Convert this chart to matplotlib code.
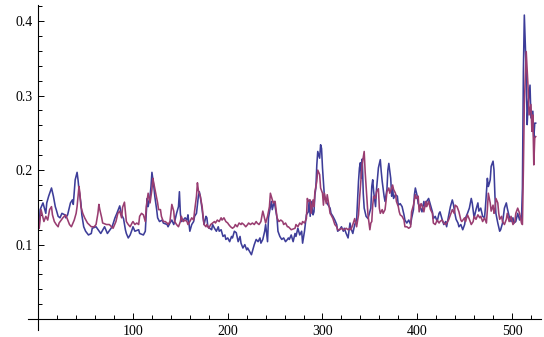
import matplotlib
matplotlib.use("Agg")
import matplotlib.pyplot as plt
from matplotlib.ticker import FixedLocator

# ---- data (index, value) ----
blue_x = [1, 2, 5, 8, 9, 11, 14, 16, 18, 19, 21, 23, 25, 28, 29, 31, 34, 36, 37, 38, 39, 41, 42, 43, 45, 46, 48, 50, 53, 56, 57, 61, 66, 70, 73, 78, 81, 83, 86, 88, 90, 92, 93, 95, 97, 99, 100, 102, 106, 107, 111, 113, 114, 115, 116, 118, 119, 120, 122, 123, 125, 126, 128, 131, 132, 136, 137, 139, 141, 143, 144, 146, 148, 149, 150, 151, 153, 155, 157, 158, 160, 162, 164, 165, 167, 169, 170, 171, 173, 174,
          175, 177, 178, 179, 181, 183, 184, 186, 188, 190, 191, 193, 195, 197, 198, 200, 202, 204, 205, 207, 209, 211, 213, 214, 216, 218, 220, 221, 223, 225, 227, 228, 230, 232, 234, 235, 237, 239, 240, 242, 243, 245, 246, 247, 249, 250, 252, 253, 255, 257, 259, 261, 263, 264, 265, 267, 269, 271, 272, 274, 276, 278, 279, 281, 283, 285, 286, 287, 288, 290, 291, 292, 293, 294, 295, 297, 298, 299, 300, 301, 302, 304, 306, 308, 309, 311, 313, 315, 316, 318, 320, 322, 323, 325, 327, 329, 330, 332, 334, 336, 337, 338, 339, 340, 341, 342, 343, 344, 346, 348, 350, 351,
          352, 353, 354, 356, 357, 358, 359, 361, 362, 363, 365, 366, 368, 369, 370, 372, 373, 374, 375, 377, 379, 380, 382, 384, 386, 387, 389, 391, 393, 394, 396, 397, 398, 400, 401, 403, 405, 407, 408, 410, 412, 414, 416, 417, 419, 421, 423, 424, 426, 428, 430, 431, 433, 435, 437, 438, 440,
          441, 443, 444, 446, 448, 450, 451, 453, 455, 457, 458, 460, 462, 464, 465, 467, 469, 471, 472, 473, 474, 475, 476, 477, 478, 480, 481, 482, 483, 485, 487, 488, 490, 492, 494, 495, 497, 499, 501, 502, 504, 506, 508, 509, 510, 511, 512, 513, 515, 516, 517, 519, 520, 522, 523, 524, 525]
blue_y = [0.125, 0.147, 0.156, 0.142, 0.156, 0.165, 0.176, 0.165, 0.151, 0.147, 0.138, 0.136, 0.142, 0.140, 0.136, 0.140, 0.156, 0.160, 0.154, 0.171, 0.187, 0.197, 0.187, 0.174, 0.156, 0.140, 0.124, 0.118, 0.113, 0.115, 0.122, 0.124, 0.115, 0.124, 0.115, 0.124, 0.136, 0.142, 0.152, 0.140, 0.135, 0.120, 0.115, 0.109, 0.113, 0.120, 0.124, 0.118, 0.120, 0.115, 0.113, 0.118, 0.142, 0.162, 0.151, 0.165, 0.178, 0.197, 0.178, 0.165, 0.147, 0.136, 0.131, 0.133, 0.129, 0.127, 0.124, 0.129, 0.133, 0.127, 0.131, 0.142, 0.151, 0.171, 0.142, 0.131, 0.133, 0.136, 0.133, 0.140, 0.118, 0.127, 0.131, 0.138, 0.142, 0.165, 0.171, 0.165, 0.147, 0.136,
          0.127, 0.138, 0.136, 0.124, 0.122, 0.120, 0.127, 0.122, 0.118, 0.124, 0.118, 0.120, 0.111, 0.113, 0.107, 0.109, 0.104, 0.111, 0.109, 0.118, 0.116, 0.104, 0.111, 0.102, 0.0955, 0.100, 0.093, 0.0955, 0.091, 0.0865, 0.0955, 0.100, 0.107, 0.104, 0.109, 0.102, 0.107, 0.118, 0.127, 0.104, 0.136, 0.151, 0.158, 0.147, 0.158, 0.151, 0.136, 0.118, 0.111, 0.107, 0.109, 0.104, 0.107, 0.109, 0.107, 0.113, 0.104, 0.115, 0.111, 0.122, 0.113, 0.118, 0.102, 0.118, 0.140, 0.144, 0.160, 0.138, 0.158, 0.140, 0.144, 0.167, 0.176, 0.207, 0.225, 0.216, 0.234, 0.229, 0.203, 0.185, 0.165, 0.158, 0.153, 0.149, 0.142, 0.138, 0.133, 0.127, 0.118, 0.120, 0.124, 0.118, 0.122, 0.115, 0.109, 0.129, 0.122, 0.115, 0.127, 0.133, 0.158, 0.185, 0.203, 0.210, 0.189, 0.215, 0.169, 0.149, 0.138, 0.135, 0.144, 0.149,
          0.178, 0.187, 0.171, 0.151, 0.174, 0.189, 0.203, 0.214, 0.198, 0.185, 0.165, 0.158, 0.174, 0.200, 0.209, 0.189, 0.165, 0.176, 0.162, 0.167, 0.165, 0.153, 0.155, 0.151, 0.140, 0.133, 0.129, 0.133, 0.127, 0.135, 0.147, 0.167, 0.176, 0.165, 0.155, 0.151, 0.144, 0.158, 0.151, 0.158, 0.162, 0.153, 0.144, 0.135, 0.138, 0.131, 0.142, 0.144, 0.135, 0.127, 0.131, 0.124, 0.138, 0.151, 0.160, 0.155, 0.140,
          0.134, 0.129, 0.124, 0.127, 0.120, 0.127, 0.136, 0.142, 0.149, 0.162, 0.156, 0.136, 0.147, 0.156, 0.145, 0.149, 0.138, 0.136, 0.151, 0.171, 0.189, 0.178, 0.182, 0.187, 0.205, 0.212, 0.200, 0.165, 0.142, 0.129, 0.118, 0.120, 0.129, 0.149, 0.156, 0.149, 0.138, 0.131, 0.136, 0.129, 0.131, 0.142, 0.133, 0.138, 0.134, 0.176, 0.332, 0.408, 0.332, 0.261, 0.288, 0.314, 0.270, 0.279, 0.243, 0.263, 0.263]

red_x = [1, 3, 5, 6, 8, 10, 12, 14, 15, 17, 19, 21, 22, 26, 29, 33, 35, 38, 40, 41, 43, 44, 45, 47, 49, 52, 56, 59, 61, 63, 64, 65, 67, 68, 72, 75, 79, 82, 84, 86, 88, 89, 91, 93, 95, 97, 99, 100, 102, 104, 106, 107, 109, 111, 113, 114, 116, 118, 120, 121, 122, 124, 126, 127, 129, 130, 132, 134, 136, 137, 139, 141, 143, 144, 146, 148, 150, 151, 153, 155, 157, 158, 160, 162, 164, 165, 167, 168, 169, 171, 173, 174,
         175, 177, 178, 180, 182, 184, 186, 187, 189, 191, 193, 194, 196, 198, 200, 201, 203, 205, 207, 208, 210, 212, 214, 215, 217, 219, 221, 222, 224, 226, 228, 230, 231, 233, 235, 237, 238, 240, 242, 244, 245, 247, 248, 250, 251, 252, 254, 256, 258, 259, 261, 263,
         264, 267, 271, 272, 274, 276, 278, 279, 281, 283, 284, 285, 287, 288, 290, 291, 292, 294, 295, 297, 298, 300, 301, 302, 304, 305, 307, 308, 309, 311, 313, 315, 316, 318, 320, 322, 323, 325, 327, 329, 330, 332, 334, 336, 338, 339, 341, 342, 344, 345, 347, 348, 350, 351,
         352, 353, 354, 356, 357, 359, 360, 361, 363, 364, 366, 367, 368, 370, 371, 373, 374, 375, 377, 378, 380, 381, 382, 384, 386, 387, 389, 391, 393, 394, 396, 398, 399, 401, 402, 404, 405, 407, 409, 410, 412, 414, 416, 417, 419, 421, 423, 424, 426, 428, 430, 431, 433, 435, 437, 439, 440, 442, 444, 446, 447,
         450, 451, 453, 455, 457, 459, 460, 462, 464, 466, 467, 469, 471, 473, 474, 475, 477, 478, 480, 481, 482, 483, 485, 486, 487, 489, 490, 492, 494, 495, 497, 499, 501, 503, 504, 506, 508, 510, 511, 512, 513, 514, 515, 517, 518, 520, 521, 522, 523, 524, 525]
red_y = [0.122, 0.147, 0.136, 0.131, 0.138, 0.133, 0.147, 0.151, 0.140, 0.131, 0.127, 0.124, 0.129, 0.136, 0.140, 0.127, 0.124, 0.133, 0.142, 0.151, 0.178, 0.169, 0.151, 0.142, 0.136, 0.129, 0.124, 0.124, 0.127, 0.142, 0.154, 0.147, 0.136, 0.129, 0.127, 0.127, 0.122, 0.131, 0.142, 0.145, 0.136, 0.150, 0.157, 0.131, 0.127, 0.124, 0.129, 0.131, 0.127, 0.129, 0.127, 0.138, 0.142, 0.140, 0.131, 0.151, 0.169, 0.156, 0.174, 0.189, 0.182, 0.169, 0.156, 0.147, 0.147, 0.138, 0.131, 0.131, 0.129, 0.127, 0.131, 0.154, 0.145, 0.131, 0.127, 0.124, 0.131, 0.138, 0.131, 0.133, 0.131, 0.127, 0.131, 0.136, 0.133, 0.145, 0.165, 0.183, 0.173, 0.165, 0.151, 0.138,
         0.127, 0.124, 0.127, 0.122, 0.127, 0.129, 0.131, 0.129, 0.133, 0.131, 0.136, 0.133, 0.136, 0.131, 0.129, 0.127, 0.124, 0.122, 0.124, 0.127, 0.124, 0.129, 0.127, 0.129, 0.127, 0.124, 0.127, 0.129, 0.127, 0.129, 0.127, 0.131, 0.129, 0.127, 0.131, 0.145, 0.140, 0.129, 0.138, 0.151, 0.169, 0.160, 0.156, 0.158, 0.147, 0.136, 0.131, 0.133, 0.131, 0.127, 0.129, 0.124,
         0.124, 0.120, 0.122, 0.127, 0.124, 0.129, 0.127, 0.131, 0.129, 0.135, 0.162, 0.158, 0.160, 0.142, 0.160, 0.151, 0.171, 0.185, 0.200, 0.194, 0.176, 0.169, 0.153, 0.169, 0.155, 0.167, 0.151, 0.142, 0.140, 0.135, 0.127, 0.124, 0.120, 0.120, 0.122, 0.120, 0.120, 0.122, 0.120, 0.122, 0.120, 0.127, 0.135, 0.124, 0.140, 0.160, 0.194, 0.209, 0.225, 0.198, 0.158, 0.140, 0.120, 0.129,
         0.131, 0.153, 0.165, 0.162, 0.171, 0.175, 0.149, 0.142, 0.147, 0.142, 0.147, 0.158, 0.171, 0.176, 0.169, 0.176, 0.180, 0.174, 0.169, 0.158, 0.151, 0.144, 0.140, 0.138, 0.133, 0.124, 0.124, 0.122, 0.124, 0.144, 0.153, 0.167, 0.162, 0.165, 0.144, 0.155, 0.153, 0.144, 0.158, 0.151, 0.158, 0.147, 0.142, 0.129, 0.127, 0.133, 0.129, 0.131, 0.133, 0.129, 0.127, 0.129, 0.133, 0.140, 0.147, 0.142, 0.153, 0.151, 0.144, 0.133, 0.131,
         0.136, 0.131, 0.140, 0.134, 0.127, 0.131, 0.138, 0.134, 0.140, 0.136, 0.138, 0.131, 0.136, 0.129, 0.147, 0.169, 0.156, 0.145, 0.153, 0.142, 0.147, 0.162, 0.156, 0.142, 0.134, 0.138, 0.131, 0.127, 0.134, 0.142, 0.131, 0.138, 0.127, 0.131, 0.142, 0.149, 0.142, 0.129, 0.127, 0.200, 0.288, 0.323, 0.359, 0.310, 0.274, 0.288, 0.252, 0.274, 0.207, 0.243, 0.245]

x_major = [100, 200, 300, 400, 500]
x_labels = ["100", "200", "300", "400", "500"]
y_major = [0.1, 0.2, 0.3, 0.4]
y_labels = ["0.1", "0.2", "0.3", "0.4"]

BLUE = (0.24, 0.24, 0.6)
RED = (0.6, 0.24, 0.442)

W, H = 544, 337
fig = plt.figure(figsize=(W / 100, H / 100), dpi=100)
left_px, right_px, top_px, bot_px = 28, 541, 5, 330
ax = fig.add_axes([left_px / W, 1 - bot_px / H, (right_px - left_px) / W, (bot_px - top_px) / H])

ax.plot(blue_x, blue_y, color=BLUE, lw=1.15, solid_joinstyle="round")
ax.plot(red_x, red_y, color=RED, lw=1.15, solid_joinstyle="round")

ax.set_xlim(-10.8, 530.6)
ax.set_ylim(-0.0145, 0.4215)

for s in ("top", "right"):
    ax.spines[s].set_visible(False)
ax.spines["left"].set_position(("data", 0))
ax.spines["bottom"].set_position(("data", 0))
for s in ("left", "bottom"):
    ax.spines[s].set_linewidth(0.8)
    ax.spines[s].set_color("black")

ax.xaxis.set_major_locator(FixedLocator(x_major))
ax.xaxis.set_minor_locator(FixedLocator([v for v in range(20, 521, 20) if v % 100]))
ax.yaxis.set_major_locator(FixedLocator(y_major))
ax.yaxis.set_minor_locator(FixedLocator([round(0.02 * k, 2) for k in range(1, 22) if k % 5]))
ax.set_xticklabels(x_labels)
ax.set_yticklabels(y_labels)

ax.tick_params(which="both", direction="in", color="black", width=0.7)
ax.tick_params(which="major", length=4.5)
ax.tick_params(which="minor", length=2.8)
ax.tick_params(axis="x", which="major", pad=4.5)
ax.tick_params(axis="y", which="major", pad=4)
for lab in ax.get_xticklabels() + ax.get_yticklabels():
    lab.set_fontfamily("Liberation Serif")
    lab.set_fontsize(10)

fig.savefig("out.png", dpi=100)
